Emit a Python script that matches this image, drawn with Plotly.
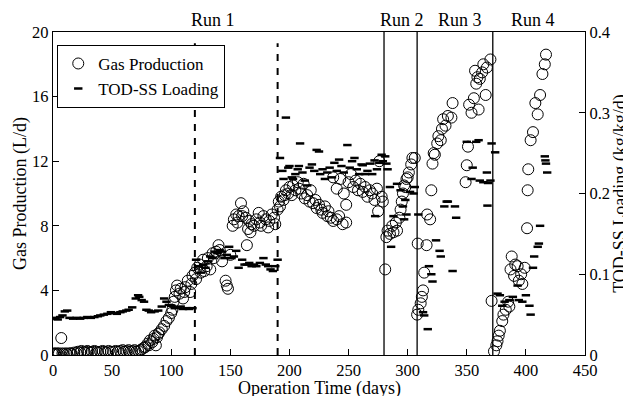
import plotly.graph_objects as go

# ---------------- data ----------------
gas_days = [0, 1, 2, 3, 4, 5, 7, 8, 9, 11, 12, 14, 15, 16, 18, 20, 21, 23, 24, 26, 27, 29, 30, 32, 33,
            35, 37, 38, 40, 42, 44, 45, 47, 49, 51, 53, 55, 57, 59, 60, 62, 64, 65, 67, 69, 70, 72, 74,
            75, 77, 78, 80, 81, 82, 84, 85, 86, 87, 88, 89, 90, 92, 94, 96, 98, 100, 101, 102, 103, 104,
            105, 107, 108, 110, 111, 112, 114, 116, 117, 118, 120,
            121, 122, 124, 125, 127, 128, 130, 131, 133, 135, 136, 138, 140, 141, 143, 146, 147, 148, 150,
            152, 153, 155, 156, 157, 159, 160, 161, 163, 164, 165, 166, 167, 168, 170, 172, 174, 175, 176,
            178, 180, 182, 183, 185, 187, 188,
            190, 191, 192, 193, 195, 196, 197, 199, 200, 202, 203, 205, 207, 208, 210, 212, 213, 215, 217,
            218, 220, 222, 223, 225, 227, 228, 230, 232, 233, 235, 237, 240, 242, 245, 248,
            237, 240, 243, 246, 248, 250, 252, 254, 256, 258, 260, 262, 264, 266, 268, 270, 272, 274, 275,
            276, 278, 279,
            281, 282, 283, 285, 287, 288, 290, 291, 293, 294, 295, 296, 297, 298, 299, 300, 301, 303, 304, 306,
            308, 309, 311, 312, 313, 314, 308.5, 316, 316.5, 319, 320, 321, 322, 323, 325, 326, 328, 329, 330,
            332, 334, 337, 338, 349, 350, 351, 352, 354, 356, 357, 358, 359, 360, 361, 363, 364, 366, 367,
            370, 371,
            373, 375, 376, 377, 378, 380, 381, 383, 385, 386, 387, 388, 390, 391, 393, 394, 396, 397, 399,
            401, 401.5, 402, 404, 406, 408, 410, 412, 414, 416, 417]
gas_values = [0.05, 0.1, 0.05, 0.1, 0.05, 0.1, 1.05, 0.1, 0.05, 0.1, 0.05, 0.1, 0.1, 0.05, 0.15, 0.1, 0.2, 0.15,
              0.25, 0.2, 0.15, 0.25, 0.2, 0.15, 0.2, 0.25, 0.2, 0.15, 0.2, 0.25, 0.2, 0.15, 0.25, 0.2, 0.2,
              0.25, 0.2, 0.25, 0.3, 0.2, 0.25, 0.3, 0.2, 0.25, 0.3, 0.2, 0.25, 0.3,
              0.35, 0.45, 0.5, 0.7, 0.6, 0.9, 0.8, 1.0, 1.2, 0.6, 1.1, 1.3, 1.4, 1.6, 1.8, 2.1, 2.3, 2.6, 2.8,
              3.3, 3.6, 4.0, 4.3, 3.8, 4.1, 3.5, 3.9, 4.2, 4.6, 3.9, 4.4, 4.9, 5.1,
              4.7, 5.4, 5.6, 5.1, 5.9, 5.2, 5.5, 6.0, 5.3, 6.3, 6.0, 6.4, 6.8, 6.5, 5.8, 4.6, 4.3, 4.1, 6.2,
              8.0, 8.4, 8.7, 8.2, 8.6, 9.4, 8.6, 8.9, 8.5, 6.8, 7.8, 8.3, 7.6, 8.1, 8.0, 8.4, 8.8, 8.2, 8.0,
              8.6, 8.4, 7.9, 8.3, 8.7, 8.5, 8.1,
              9.0, 9.5, 9.2, 9.8, 9.6, 9.9, 10.2, 10.0, 10.4, 9.9, 10.5, 10.2, 10.7, 10.3, 10.0, 10.6, 9.7,
              9.9, 9.5, 10.2, 9.4, 9.6, 9.1, 9.3, 9.0, 8.8, 9.2, 8.6, 8.9, 8.5, 8.3, 8.4, 8.6, 8.1, 8.2,
              11.0, 10.3, 10.9, 10.0, 9.3, 10.7, 11.2, 10.4, 10.8, 10.2, 10.6, 10.1, 10.4, 9.8, 10.2, 10.0,
              9.6, 10.3, 8.9, 12.0, 9.8, 9.5,
              5.3, 7.3, 7.7, 7.5, 8.0, 7.6, 8.2, 7.7, 8.5, 9.0, 9.5, 10.0, 10.5, 10.4, 10.9, 11.0, 11.3,
              11.8, 12.2, 12.2,
              2.5, 2.8, 3.2, 3.6, 4.0, 5.1, 6.9, 6.8, 8.7, 8.4, 10.2, 11.85, 12.5, 12.4, 13.1, 13.55, 13.3,
              14.0, 14.6, 14.2, 14.8, 14.7, 15.6, 10.7, 11.75, 12.9, 15.5, 15.0, 15.9, 17.6, 16.8, 17.2, 15.2,
              17.1, 17.5, 18.0, 16.1, 17.8, 18.3, 3.35,
              0.23, 0.6, 0.85, 1.2, 1.5, 2.1, 2.5, 2.8, 3.3, 3.0, 5.3, 6.1, 4.9, 5.6, 5.5, 4.6, 5.0, 4.4, 5.4,
              7.85, 10.2, 11.5, 13.3, 13.8, 15.6, 14.9, 16.1, 17.4, 18.0, 18.6]

load_days = [0, 2, 4, 6, 8, 10, 12, 14, 17, 20, 23, 26, 29, 32, 35, 38, 40, 43, 46, 49, 52, 54, 57, 59, 62,
             64, 67, 70, 72, 73, 75, 77, 79, 81, 83, 86, 89, 92, 94, 96, 98, 100, 103, 106, 108, 110, 113,
             115, 118,
             121, 123, 125, 127, 129, 131, 133, 135, 137, 139, 141, 143, 145, 147, 149, 151, 153, 155, 157,
             160, 162, 164, 166, 168, 170, 172, 175, 178, 180, 182, 184, 186, 188, 190,
             192, 194, 195, 197, 199, 200, 202, 203, 205, 207, 208, 209, 211, 213, 215, 217, 219, 221, 223,
             225, 226, 228, 230, 232, 234, 236, 238, 240, 242, 244, 246, 249, 251, 253, 255, 257, 259, 261,
             262, 264, 266, 268, 270, 272, 272.5, 274, 276, 278, 279,
             281, 282, 283, 285, 286, 288, 291, 294, 296, 297, 298, 299, 302, 305, 306,
             309, 313, 314, 317, 318, 320, 321, 324, 327, 328, 331, 333, 334, 338, 340, 341, 350, 354, 355,
             358, 360, 361, 364, 367, 367.5, 368, 370, 371,
             374, 376, 378, 380, 382, 386, 389, 393, 394, 397, 400, 403, 404, 406, 407, 410, 411, 412,
             416, 416.5, 417, 418]
load_values = [0.045, 0.046, 0.044, 0.047, 0.049, 0.054, 0.055, 0.046, 0.045, 0.046, 0.045, 0.046, 0.047,
               0.046, 0.047, 0.048, 0.049, 0.05, 0.051, 0.053, 0.052, 0.051, 0.053, 0.054, 0.055, 0.056,
               0.059, 0.07, 0.074, 0.072, 0.068, 0.066, 0.056, 0.055, 0.053, 0.054, 0.055, 0.06, 0.07,
               0.066, 0.062, 0.061, 0.058, 0.059, 0.06, 0.057, 0.058, 0.057, 0.058,
               0.118, 0.11, 0.102, 0.112, 0.108, 0.116, 0.122, 0.12, 0.128, 0.126, 0.13, 0.128, 0.12, 0.124,
               0.134, 0.12, 0.122, 0.129, 0.108, 0.118, 0.112, 0.112, 0.114, 0.11, 0.112, 0.11, 0.114,
               0.12, 0.112, 0.11, 0.106, 0.104, 0.11, 0.118,
               0.244, 0.228, 0.218, 0.294, 0.232, 0.234, 0.22, 0.218, 0.224, 0.23, 0.234, 0.262, 0.226,
               0.216, 0.21, 0.232, 0.236, 0.228, 0.254, 0.252, 0.224, 0.23, 0.218, 0.226, 0.232, 0.22,
               0.238, 0.228, 0.242, 0.234, 0.226, 0.26, 0.232, 0.24, 0.244, 0.23, 0.224, 0.236, 0.235,
               0.224, 0.228, 0.237, 0.224, 0.241, 0.172, 0.23, 0.238, 0.248, 0.24,
               0.246, 0.237, 0.23, 0.208, 0.134, 0.172, 0.212, 0.204, 0.184, 0.168, 0.192, 0.174, 0.202,
               0.2, 0.208,
               0.174, 0.053, 0.049, 0.032, 0.11, 0.1, 0.091, 0.142, 0.129, 0.122, 0.184, 0.19, 0.19, 0.104,
               0.184, 0.17, 0.264, 0.218, 0.232, 0.264, 0.266, 0.216, 0.214, 0.226, 0.185, 0.213, 0.216,
               0.262,
               0.251, 0.076, 0.074, 0.061, 0.066, 0.068, 0.072, 0.086, 0.068, 0.066, 0.074, 0.061, 0.05,
               0.108, 0.122, 0.134, 0.138, 0.16, 0.246, 0.241, 0.237, 0.226]

run_dashed = [120, 190]
run_solid = [280, 308, 372]
run_labels = ["Run 1", "Run 2", "Run 3", "Run 4"]
run_label_x = [135, 295, 344, 406]

x_ticks = [0, 50, 100, 150, 200, 250, 300, 350, 400, 450]
y_ticks = [0, 4, 8, 12, 16, 20]
y2_ticks = [0, 0.1, 0.2, 0.3, 0.4]

# ---------------- figure ----------------
FONT = "Liberation Serif, Times New Roman, serif"
fig = go.Figure()

fig.add_trace(go.Scatter(
    x=gas_days, y=gas_values, mode="markers", name="Gas Production",
    marker=dict(symbol="circle-open", size=11, color="black", line=dict(width=1, color="black")),
))
fig.add_trace(go.Scatter(
    x=load_days, y=load_values, mode="markers", name="TOD-SS Loading", yaxis="y2",
    marker=dict(symbol="line-ew", size=6, color="black", line=dict(width=2.5, color="black")),
))

shapes = []
for d in run_dashed:
    shapes.append(dict(type="line", xref="x", yref="y", x0=d, x1=d, y0=0, y1=19.3,
                       line=dict(color="black", width=2, dash="7px,7px")))
for d in run_solid:
    shapes.append(dict(type="line", xref="x", yref="y", x0=d, x1=d, y0=0, y1=20,
                       line=dict(color="black", width=1.3)))

annotations = []
for lab, lx in zip(run_labels, run_label_x):
    annotations.append(dict(text=lab, x=lx, xref="x", y=1.0, yref="paper", yanchor="bottom",
                            yshift=0, showarrow=False, font=dict(size=18, color="black", family=FONT)))
# x-axis title as an annotation so it can sit below the tick labels
annotations.append(dict(text="Operation Time (days)", x=0.5, xref="paper", y=0, yref="paper",
                        yanchor="top", yshift=-21, showarrow=False,
                        font=dict(size=18, color="black", family=FONT)))

axis_common = dict(showline=True, linecolor="black", linewidth=1.2, ticks="inside", ticklen=6,
                   tickcolor="black", showgrid=False, zeroline=False, automargin=False,
                   tickfont=dict(size=16.5, color="black", family=FONT))

# the page body adds an 8px offset, so the figure is 8px smaller than the window
fig.update_layout(
    width=623, height=388,
    margin=dict(l=45, r=46, t=24, b=41),
    paper_bgcolor="white", plot_bgcolor="white",
    font=dict(family=FONT, color="black"),
    showlegend=True,
    legend=dict(x=0.008, y=0.96, xanchor="left", yanchor="top", bordercolor="black", borderwidth=1,
                bgcolor="white", font=dict(size=17, family=FONT, color="black"),
                tracegroupgap=0, itemwidth=30),
    xaxis=dict(range=[0, 450], tickvals=x_ticks, mirror=True, **axis_common),
    yaxis=dict(range=[0, 20], tickvals=y_ticks,
               title=dict(text="Gas Production (L/d)", font=dict(size=18, family=FONT), standoff=0),
               **axis_common),
    yaxis2=dict(range=[0, 0.4], tickvals=y2_ticks, overlaying="y", side="right",
                title=dict(text="TOD-SS Loading (kg/kg/d)", font=dict(size=18, family=FONT), standoff=2),
                **axis_common),
    shapes=shapes,
    annotations=annotations,
)

fig.write_html("out.html")
